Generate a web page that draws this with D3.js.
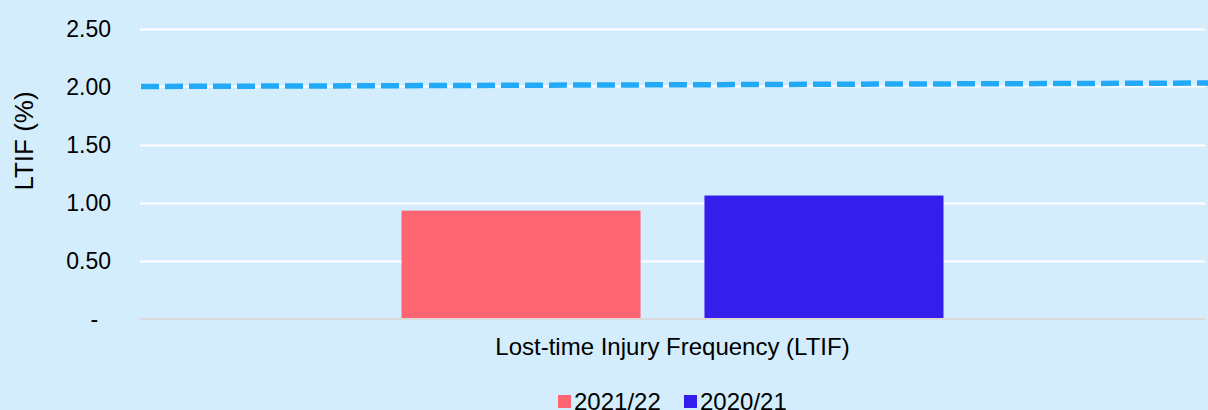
<!DOCTYPE html>
<html><head><meta charset="utf-8">
<script src="https://cdn.jsdelivr.net/npm/d3@7"></script>
<style>
html,body{margin:0;padding:0;background:#D3EDFD;}
svg{display:block;font-family:"Liberation Sans",Arial,sans-serif;}
</style></head>
<body>
<svg id="chart" width="1208" height="410"></svg>
<script>
const categories = ["Lost-time Injury Frequency (LTIF)"];
const seriesNames = ["2021/22", "2020/21"];
const seriesValues = [0.93, 1.06];
const seriesColors = ["#FF6473", "#351EEB"];
const targetLine = [2.00, 2.03];
const yTicks = [0, 0.5, 1.0, 1.5, 2.0, 2.5];
const yTickLabels = ["-\u00A0\u00A0", "0.50", "1.00", "1.50", "2.00", "2.50"];
const yTitle = "LTIF (%)";

const svg = d3.select("#chart");
const W = 1208, H = 410;
const m = {left: 140, right: 3, top: 28.5, bottom: 91.5};
const x0 = m.left, x1 = W - m.right;
const y = d3.scaleLinear().domain([0, 2.5]).range([H - m.bottom, m.top]);
const xc = d3.scaleBand().domain(categories).range([x0, x1]).paddingInner(0).paddingOuter(0.4825);
const xs = d3.scaleBand().domain(seriesNames).range([0, xc.bandwidth()]).paddingInner(0.211).paddingOuter(0);

svg.append("rect").attr("width", W).attr("height", H).attr("fill", "#D3EDFD");

// gridlines
svg.append("g").selectAll("line").data(yTicks.filter(d => d > 0)).join("line")
  .attr("x1", x0).attr("x2", x1)
  .attr("y1", d => Math.round(y(d)) + 0.5).attr("y2", d => Math.round(y(d)) + 0.5)
  .attr("stroke", "#FFFFFF").attr("stroke-width", 2);

// bars
const cat = categories[0];
svg.append("g").selectAll("rect").data(seriesValues).join("rect")
  .attr("x", (d, i) => xc(cat) + xs(seriesNames[i]))
  .attr("width", xs.bandwidth())
  .attr("y", d => y(d))
  .attr("height", d => y(0) - y(d))
  .attr("fill", (d, i) => seriesColors[i]);

// baseline axis
svg.append("line").attr("x1", x0).attr("x2", x1)
  .attr("y1", y(0) + 0.5).attr("y2", y(0) + 0.5)
  .attr("stroke", "#D9D9D9").attr("stroke-width", 2);

// target dashed line
const xl = d3.scaleLinear().domain([0, 1]).range([x0 + 1, W + 10]);
const line = d3.line().x((d, i) => xl(i)).y(d => y(d));
svg.append("path").datum(targetLine).attr("d", line)
  .attr("fill", "none").attr("stroke", "#22AAF8").attr("stroke-width", 5.5)
  .attr("stroke-dasharray", "18,6");

// y tick labels
svg.append("g").selectAll("text").data(yTicks).join("text")
  .attr("x", 111).attr("y", d => y(d)).attr("dy", "0.36em")
  .attr("text-anchor", "end").attr("font-size", 23).attr("fill", "#000")
  .attr("xml:space", "preserve")
  .text((d, i) => yTickLabels[i]);

// y title
svg.append("text").attr("transform", "translate(33,141) rotate(-90)")
  .attr("text-anchor", "middle").attr("font-size", 26).attr("fill", "#000")
  .text(yTitle);

// x category label
svg.append("text").attr("x", xc(cat) + xc.bandwidth() / 2).attr("y", 355)
  .attr("text-anchor", "middle").attr("font-size", 24).attr("fill", "#000")
  .text(cat);

// legend
const lg = svg.append("g");
const legX = [558, 684];
seriesNames.forEach((n, i) => {
  lg.append("rect").attr("x", legX[i]).attr("y", 395).attr("width", 13).attr("height", 13).attr("fill", seriesColors[i]);
  lg.append("text").attr("x", legX[i] + 16).attr("y", 410).attr("font-size", 24).attr("fill", "#000").text(n);
});
</script>
</body></html>
